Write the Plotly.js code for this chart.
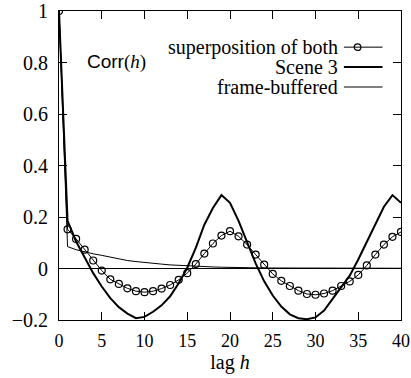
<!DOCTYPE html>
<html>
<head>
<meta charset="utf-8">
<script src="https://cdn.plot.ly/plotly-3.0.1.min.js"></script>
<style>html,body{margin:0;padding:0;background:#fff;}#chart{width:411px;height:378px;}</style>
</head>
<body>
<div id="chart"></div>
<script>
const lags = [0,1,2,3,4,5,6,7,8,9,10,11,12,13,14,15,16,17,18,19,20,21,22,23,24,25,26,27,28,29,30,31,32,33,34,35,36,37,38,39,40];
const superposition = [1.0,0.152,0.115,0.073,0.031,-0.008,-0.042,-0.060,-0.077,-0.088,-0.092,-0.088,-0.078,-0.064,-0.044,-0.018,0.017,0.058,0.097,0.128,0.145,0.125,0.093,0.054,0.015,-0.021,-0.048,-0.068,-0.086,-0.099,-0.102,-0.097,-0.086,-0.068,-0.050,-0.025,0.012,0.054,0.093,0.123,0.142];
const scene3 = [1.0,0.185,0.105,0.045,-0.018,-0.07,-0.115,-0.15,-0.175,-0.193,-0.188,-0.168,-0.143,-0.108,-0.057,0.003,0.08,0.17,0.235,0.285,0.255,0.185,0.1,0.02,-0.05,-0.105,-0.148,-0.178,-0.193,-0.197,-0.19,-0.163,-0.118,-0.075,-0.028,0.035,0.105,0.175,0.24,0.285,0.255];
const frameBuffered = [1.0,0.085,0.073,0.064,0.057,0.051,0.044,0.036,0.031,0.027,0.023,0.020,0.017,0.014,0.012,0.010,0.008,0.007,0.006,0.005,0.004,0.004,0.003,0.003,0.002,0.002,0.002,0.001,0.001,0.001,0.001,0.001,0.001,0.001,0.001,0.001,0.001,0.001,0.001,0.001,0.001];
const seriesNames = ["superposition of both","Scene 3","frame-buffered"];
const xTickVals = [0,5,10,15,20,25,30,35,40];
const yTickVals = [-0.2,0,0.2,0.4,0.6,0.8,1];

const serif = "Liberation Serif, Times New Roman, serif";
const traces = [
  {x: lags, y: frameBuffered, name: seriesNames[2], type: "scatter", mode: "lines",
   line: {color: "#000", width: 1}},
  {x: lags, y: scene3, name: seriesNames[1], type: "scatter", mode: "lines",
   line: {color: "#000", width: 2}},
  {x: lags, y: superposition, name: seriesNames[0], type: "scatter", mode: "lines+markers",
   line: {color: "#000", width: 1},
   marker: {symbol: "circle-open", size: 7, color: "#000", line: {width: 1.2, color: "#000"}}}
];

// custom legend (text right-aligned, sample to its right)
const legY = [0.883, 0.819, 0.754];
const legTextX = 0.823, sx0 = 0.833, sx1 = 0.946, markX = 0.873;
const annotations = seriesNames.map((n, i) => ({
  xref: "paper", yref: "paper", x: legTextX, y: legY[i], xanchor: "right", yanchor: "middle",
  text: n, showarrow: false, font: {family: serif, size: 20, color: "#000"}
}));
annotations.push({
  xref: "paper", yref: "paper", x: 0.077, y: 0.835, xanchor: "left", yanchor: "middle", showarrow: false,
  text: '<span style="font-family:Liberation Sans, Arial, sans-serif">Corr</span>(<i>h</i>)',
  font: {family: serif, size: 19, color: "#000"}
});
const shapes = [
  {type: "line", xref: "paper", yref: "paper", x0: sx0, x1: sx1, y0: legY[0], y1: legY[0], line: {color: "#000", width: 1}},
  {type: "circle", xref: "paper", yref: "paper", xsizemode: "pixel", ysizemode: "pixel",
   xanchor: markX, yanchor: legY[0], x0: -3.3, x1: 3.3, y0: -3.3, y1: 3.3, line: {color: "#000", width: 1.2}, fillcolor: "rgba(0,0,0,0)"},
  {type: "line", xref: "paper", yref: "paper", x0: sx0, x1: sx1, y0: legY[1], y1: legY[1], line: {color: "#000", width: 2}},
  {type: "line", xref: "paper", yref: "paper", x0: sx0, x1: sx1, y0: legY[2], y1: legY[2], line: {color: "#000", width: 1}}
];

const layout = {
  width: 411, height: 378,
  margin: {l: 59, r: 10, t: 11, b: 58, pad: 0},
  paper_bgcolor: "#fff", plot_bgcolor: "#fff",
  showlegend: false,
  font: {family: serif, size: 20, color: "#000"},
  xaxis: {
    range: [0, 40], tickvals: xTickVals, ticks: "inside", ticklen: 8, tickwidth: 1, tickcolor: "#000",
    showline: true, linecolor: "#000", linewidth: 1, mirror: "ticks", showgrid: false, zeroline: false,
    tickfont: {family: serif, size: 18}, ticklabelstandoff: 4, ticklabeloverflow: "allow",
    title: {text: "lag <i>h</i>", font: {family: serif, size: 20}, standoff: 5}
  },
  yaxis: {
    range: [-0.2, 1], tickvals: yTickVals, ticks: "inside", ticklen: 8, tickwidth: 1, tickcolor: "#000",
    showline: true, linecolor: "#000", linewidth: 1, mirror: "ticks", showgrid: false,
    zeroline: true, zerolinecolor: "#000", zerolinewidth: 1,
    tickfont: {family: serif, size: 20}, ticklabelstandoff: 6, ticklabeloverflow: "allow"
  },
  annotations: annotations,
  shapes: shapes
};

Plotly.newPlot("chart", traces, layout, {staticPlot: true, displayModeBar: false});
</script>
</body>
</html>
